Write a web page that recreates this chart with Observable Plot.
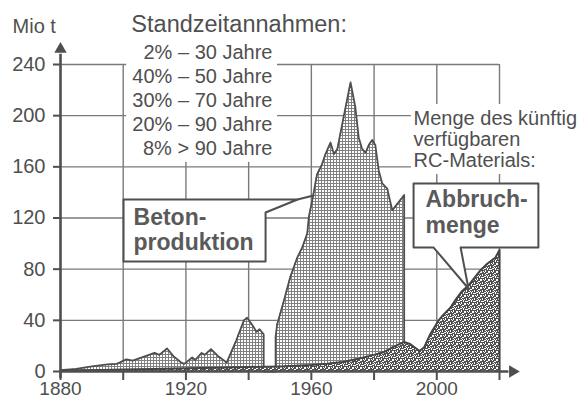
<!DOCTYPE html>
<html>
<head>
<meta charset="utf-8">
<script src="https://cdn.jsdelivr.net/npm/d3@7"></script>
<script src="https://cdn.jsdelivr.net/npm/@observablehq/plot@0.6"></script>
<style>
  html, body { margin: 0; padding: 0; background: #fff; }
</style>
</head>
<body>
<div id="chart"></div>
<script>
// Beton production (Mio t)
const prodYears = [1880,1885,1890,1895,1898,1901,1903,1906,1910,1911.5,1914,1916,1918.5,1919.5,1922,1923,1925,1926,1928,1930.5,1933,1936,1938.5,1939.5,1941,1942.5,1943.5,1944.8,1944.8,1948.6,1948.6,1949.1,1951.2,1953.3,1955.5,1957.1,1958.7,1959.2,1960.3,1961.8,1963.4,1964.5,1966.1,1967.2,1968.3,1970.3,1972.5,1974,1975.1,1976.2,1977.3,1978.3,1979.4,1980.4,1981.5,1982.6,1984.2,1985.8,1987.4,1989,1989.6,1989.6];
const prodValues = [1,2,4,5.5,6,9.5,8.5,11,14.5,13,18,12,7,6,11,9,14.5,13,17.5,11.5,7,24,40,42,37,31,33,29,0,0,27,37,55,74,89,97,108,121,134,154,162,170,179,170,174,199,226,207,183,174,171,177,181,177,157,147,143,126,131,136,138,0];
// Abbruchmenge (Mio t)
const demoYears = [1880,1890,1900,1910,1920,1930,1940,1950,1960,1965,1970,1975,1980,1983,1986,1989.5,1991.5,1994.5,1996,1998,2000.6,2002,2004.4,2006,2008.1,2010,2011.3,2013.9,2016,2018.7,2020,2020];
const demoValues = [0.5,1,1.5,2,2.5,3,3.5,4,5,6,7.5,10,13,15,19,23,21.5,16,19,29.5,40,44,50,56,63,67,71,79,84,89,95,0];

const yTicks = [0, 40, 80, 120, 160, 200, 240];
const xTicks = [1880, 1900, 1920, 1940, 1960, 1980, 2000, 2020];
const xTickLabels = [1880, 1920, 1960, 2000];

const yUnit = "Mio t";
const legendTitle = "Standzeitannahmen:";
const legendLines = ["2% – 30 Jahre", "40% – 50 Jahre", "30% – 70 Jahre", "20% – 90 Jahre", "8% > 90 Jahre"];
const rcText = ["Menge des künftig", "verfügbaren", "RC-Materials:"];
const betonLabel = ["Beton-", "produktion"];
const abbruchLabel = ["Abbruch-", "menge"];

const prod = prodYears.map((x, i) => ({x, y: prodValues[i]}));
const demo = demoYears.map((x, i) => ({x, y: demoValues[i]}));

const ink = "#4f4f4f";
const gridC = "#7a7a7a";

const betonBubble = [[1900.1,134.5],[1955.6,134.5],[1945.4,124.3],[1945.4,86.0],[1900.1,86.0],[1900.1,134.5]].map(([x,y])=>({x,y}));
const betonTip = [[1955.6,134.5],[1960.7,137.6]].map(([x,y])=>({x,y}));
const abbruchBubble = [[1992.6,147.0],[2032.4,147.0],[2032.4,96.9],[2007.6,96.9],[2010.1,64.9],[1999.0,96.9],[1992.6,96.9],[1992.6,147.0]].map(([x,y])=>({x,y}));

const chart = Plot.plot({
  width: 585,
  height: 400,
  marginLeft: 60,
  marginRight: 86,
  marginTop: 64,
  marginBottom: 29,
  x: {domain: [1880, 2020]},
  y: {domain: [0, 240]},
  style: {fontFamily: "'Liberation Sans', Arial, sans-serif", fontSize: "20px", color: ink, background: "#fff", overflow: "visible"},
  marks: [
    Plot.gridX({ticks: xTicks.filter(d => d > 1880), stroke: gridC, strokeOpacity: 1, strokeWidth: 1.4}),
    Plot.gridY({ticks: yTicks.filter(d => d > 0), stroke: gridC, strokeOpacity: 1, strokeWidth: 1.4}),
    // white backing behind text blocks
    Plot.rect([0], {x1: 1901.1, x2: 1949.2, y1: 163.5, y2: 250, fill: "#fff"}),
    Plot.rect([0], {x1: 1991.9, x2: 2050, y1: 154, y2: 208.7, fill: "#fff"}),
    // areas
    Plot.areaY(prod, {x: "x", y: "y", fill: "url(#hatch)", curve: "linear"}),
    Plot.line(prod, {x: "x", y: "y", stroke: ink, strokeWidth: 1.8}),
    Plot.areaY(demo, {x: "x", y: "y", fill: "url(#stipple)", curve: "linear"}),
    Plot.line(demo, {x: "x", y: "y", stroke: "#444", strokeWidth: 2}),
    // callout boxes
    Plot.line(betonBubble, {x: "x", y: "y", fill: "#fff", stroke: ink, strokeWidth: 2}),
    Plot.line(betonTip, {x: "x", y: "y", stroke: ink, strokeWidth: 2}),
    Plot.line(abbruchBubble, {x: "x", y: "y", fill: "#fff", stroke: ink, strokeWidth: 2}),
    // texts
    Plot.text([yUnit], {x: 1864.7, y: 264.8, text: d => d, textAnchor: "start", lineAnchor: "bottom", fontSize: 20, fill: ink}),
    Plot.text([legendTitle], {x: 1902.6, y: 265.3, text: d => d, textAnchor: "start", lineAnchor: "bottom", fontSize: 23.5, fill: ink}),
    Plot.text([legendLines.join("\n")], {x: 1947.6, y: 168.9, text: d => d, textAnchor: "end", lineAnchor: "bottom", lineHeight: 1.21, fontSize: 20, fill: ink}),
    Plot.text([rcText.join("\n")], {x: 1992.6, y: 159.5, text: d => d, textAnchor: "start", lineAnchor: "bottom", lineHeight: 1.05, fontSize: 20, fill: ink}),
    Plot.text([betonLabel.join("\n")], {x: 1903.3, y: 94.6, text: d => d, textAnchor: "start", lineAnchor: "bottom", lineHeight: 1.09, fontSize: 23, fontWeight: "bold", fill: "#5a5a5a"}),
    Plot.text([abbruchLabel.join("\n")], {x: 1996.4, y: 107.9, text: d => d, textAnchor: "start", lineAnchor: "bottom", lineHeight: 1.13, fontSize: 23, fontWeight: "bold", fill: "#5a5a5a"}),
    // axes
    Plot.axisY({ticks: yTicks, tickSize: 7, tickPadding: 8, fontSize: 20, label: null, strokeWidth: 2}),
    Plot.axisX({ticks: xTicks, tickSize: 9, tickPadding: 1, fontSize: 19, label: null, strokeWidth: 2,
      tickFormat: d => xTickLabels.includes(d) ? String(d) : ""}),
    Plot.ruleX([1880], {y1: -5.5, y2: 248, stroke: ink, strokeWidth: 2.6}),
    Plot.ruleY([0], {x1: 1880, x2: 2023, stroke: ink, strokeWidth: 2.6}),
    Plot.dot([0], {x: 1880, y: 251.9, symbol: "triangle", r: 4.6, fill: ink, stroke: "none"}),
    Plot.dot([0], {x: 2024.2, y: 0, symbol: "triangle", r: 4.6, rotate: 90, fill: ink, stroke: "none"})
  ]
});

const defs = `
<pattern id="hatch" width="3" height="3" patternUnits="userSpaceOnUse">
  <rect width="3" height="3" fill="#fff"/>
  <path d="M0 0.5H3M0.5 0V3" stroke="#808080" stroke-width="1"/>
</pattern>
<pattern id="stipple" width="8" height="8" patternUnits="userSpaceOnUse">
  <rect width="8" height="8" fill="#505050"/>
  <path d="M0 0h2v1h-2z M4 0h1v1h-1z M6 1h2v1h-2z M2 2h1v2h-1z M5 2h1v1h-1z M0 3h1v1h-1z M4 4h2v1h-2z M7 4h1v2h-1z M1 5h2v1h-2z M5 6h1v2h-1z M0 7h2v1h-2z M3 7h1v1h-1z M6 3h1v1h-1z M3 5h1v1h-1z" fill="#fff"/>
</pattern>`;
d3.select(chart).insert("defs", ":first-child").html(defs);

document.getElementById("chart").appendChild(chart);
</script>
</body>
</html>
